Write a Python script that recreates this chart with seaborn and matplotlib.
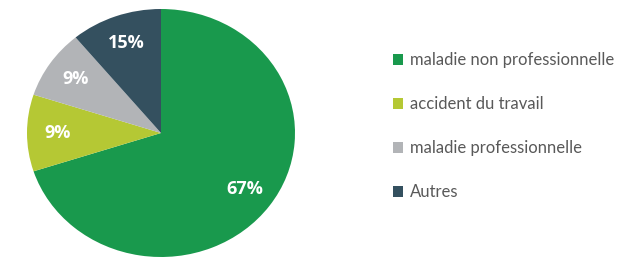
import matplotlib
matplotlib.use("Agg")
import matplotlib.pyplot as plt
from matplotlib.patches import Patch
import seaborn as sns

# data
categories = ["maladie non professionnelle", "accident du travail",
              "maladie professionnelle", "Autres"]
shares = [70, 10, 9, 11]          # wedge sizes as drawn
pct_labels = ["67%", "9%", "9%", "15%"]  # labels printed on wedges
colors = ["#19994D", "#B5C834", "#B2B4B7", "#34505F"]

sns.set_theme(style="white")
plt.rcParams['font.family'] = ['Lato', 'DejaVu Sans']

W, H = 619, 259
fig = plt.figure(figsize=(W / 100, H / 100), dpi=100)
fig.patch.set_facecolor("white")

# pie centre (161, 133) px, radii 134 x 124 px
cx, cy, rx, ry = 161, 133, 134, 124
ax = fig.add_axes([(cx - rx) / W, (H - cy - ry) / H, 2 * rx / W, 2 * ry / H])

lab_iter = iter(pct_labels)
wedges, texts, autotexts = ax.pie(
    shares, colors=colors, startangle=90, counterclock=False,
    autopct=lambda p: next(lab_iter), pctdistance=0.77,
    wedgeprops=dict(linewidth=0),
    textprops=dict(color="white", fontsize=13, fontweight="bold",
                   family=['Open Sans', 'DejaVu Sans']))
ax.set_xlim(-1, 1)
ax.set_ylim(-1, 1)
ax.set_aspect('auto')
ax.axis('off')

handles = [Patch(facecolor=c, edgecolor='none') for c in colors]
leg = fig.legend(handles, categories, loc="upper left",
                 bbox_to_anchor=(393 / W, 1 - 52 / H),
                 frameon=False, fontsize=12, handlelength=0.62,
                 handleheight=0.62, handletextpad=0.4, labelspacing=1.68,
                 borderpad=0, borderaxespad=0)
for t in leg.get_texts():
    t.set_color("#595959")

fig.savefig("out.png", dpi=100, facecolor="white")
